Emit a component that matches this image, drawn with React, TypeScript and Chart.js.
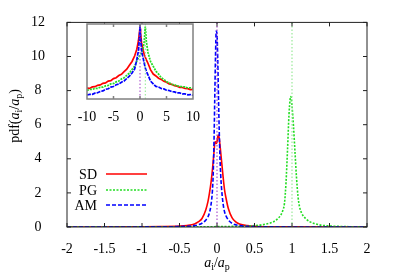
import React, { useEffect, useRef } from "react";
import { Chart, registerables } from "chart.js";

Chart.register(...registerables);

// ---------- main panel data ----------
const xTickValues = [-2, -1.5, -1, -0.5, 0, 0.5, 1, 1.5, 2];
const yTickValues = [0, 2, 4, 6, 8, 10, 12];
const seriesNames = ["SD", "PG", "AM"];

const sdX = [-2, -1.5, -1, -0.75, -0.5, -0.4, -0.3, -0.25, -0.2, -0.15, -0.12, -0.1, -0.08, -0.06, -0.04, -0.03, -0.02, -0.01, 0, 0.01, 0.02, 0.03, 0.04, 0.06, 0.08, 0.1, 0.12, 0.15, 0.2, 0.25, 0.3, 0.4, 0.5, 0.75, 1, 1.5, 2];
const sdY = [0.002, 0.004, 0.01, 0.02, 0.05, 0.09, 0.18, 0.3, 0.5, 1.0, 1.5, 2.0, 2.6, 3.4, 4.4, 4.9, 5.0, 4.9, 5.0, 5.3, 5.4, 5.2, 4.8, 3.9, 3.0, 2.2, 1.7, 1.1, 0.55, 0.3, 0.18, 0.08, 0.045, 0.015, 0.008, 0.003, 0.001];

const pgX = [-2, -1, -0.5, 0, 0.25, 0.5, 0.6, 0.7, 0.75, 0.8, 0.85, 0.88, 0.9, 0.92, 0.94, 0.96, 0.975, 0.985, 1.0, 1.02, 1.04, 1.06, 1.08, 1.1, 1.13, 1.18, 1.24, 1.3, 1.4, 1.5, 1.75, 2];
const pgY = [0.001, 0.002, 0.005, 0.02, 0.04, 0.08, 0.13, 0.22, 0.3, 0.45, 0.7, 1.0, 1.4, 2.6, 4.5, 6.6, 7.5, 7.65, 7.1, 5.9, 4.4, 2.9, 1.8, 1.2, 0.8, 0.5, 0.3, 0.2, 0.1, 0.06, 0.02, 0.01];

const amX = [-2, -1.5, -1, -0.75, -0.5, -0.4, -0.3, -0.25, -0.2, -0.15, -0.12, -0.1, -0.08, -0.06, -0.05, -0.04, -0.03, -0.02, -0.01, 0, 0.01, 0.02, 0.03, 0.04, 0.05, 0.06, 0.08, 0.1, 0.12, 0.15, 0.2, 0.25, 0.3, 0.4, 0.5, 0.75, 1, 1.5, 2];
const amY = [0.001, 0.002, 0.005, 0.01, 0.025, 0.04, 0.08, 0.13, 0.22, 0.4, 0.6, 0.85, 1.3, 2.2, 3.2, 5.0, 7.5, 10.0, 11.5, 11.3, 9.8, 7.6, 5.6, 4.0, 3.0, 2.3, 1.4, 0.9, 0.65, 0.42, 0.22, 0.13, 0.08, 0.04, 0.022, 0.008, 0.004, 0.002, 0.001];

// reference (mean) lines
const meanLineX = [0, 1];

// ---------- inset data (log y) ----------
const insetXTicks = [-10, -5, 0, 5, 10];
const insetX = [-10, -9.5, -9, -8.5, -8, -7.5, -7, -6.5, -6, -5.5, -5, -4.5, -4, -3.5, -3, -2.5, -2, -1.5, -1, -0.6, -0.3, -0.1, 0, 0.1, 0.3, 0.6, 0.8, 1, 1.2, 1.5, 2, 2.5, 3, 3.5, 4, 4.5, 5, 5.5, 6, 6.5, 7, 7.5, 8, 8.5, 9, 9.5, 10];
const insetSD = [7.8e-5, 7.2e-5, 9.5e-5, 1.0e-4, 1.28e-4, 1.38e-4, 1.85e-4, 2.0e-4, 2.8e-4, 3.1e-4, 4.5e-4, 5.3e-4, 7.9e-4, 1.0e-3, 1.65e-3, 2.6e-3, 5.4e-3, 0.011, 0.032, 0.11, 0.5, 2.5, 5.2, 2.2, 0.35, 0.089, 0.04, 0.024, 0.015, 7.9e-3, 2.3e-3, 1.05e-3, 7.4e-4, 4.8e-4, 3.9e-4, 2.7e-4, 2.3e-4, 1.7e-4, 1.55e-4, 1.2e-4, 1.1e-4, 8.9e-5, 8.6e-5, 7.1e-5, 6.9e-5, 5.8e-5, 5.9e-5];
const insetPG = [5.0e-5, 5.9e-5, 6.0e-5, 7.3e-5, 7.2e-5, 9.0e-5, 9.1e-5, 1.15e-4, 1.25e-4, 1.7e-4, 1.8e-4, 2.45e-4, 2.85e-4, 4.2e-4, 5.3e-4, 8.2e-4, 1.25e-3, 2.5e-3, 4.6e-3, 0.012, 0.022, 0.03, 0.035, 0.04, 0.055, 0.13, 0.45, 7.4, 0.45, 0.06, 0.0105, 4.5e-3, 1.8e-3, 1.05e-3, 5.3e-4, 3.9e-4, 2.5e-4, 2.1e-4, 1.5e-4, 1.42e-4, 1.1e-4, 1.12e-4, 9.5e-5, 9.5e-5, 7.9e-5, 8.1e-5, 7.1e-5];
const insetAM = [2.1e-5, 2.4e-5, 2.4e-5, 3.0e-5, 3.2e-5, 4.1e-5, 4.5e-5, 6.1e-5, 6.8e-5, 9.2e-5, 1.02e-4, 1.42e-4, 1.6e-4, 2.3e-4, 2.9e-4, 4.6e-4, 7.0e-4, 1.3e-3, 2.8e-3, 0.016, 0.08, 0.85, 11.3, 0.9, 0.08, 0.02, 7.9e-3, 3.2e-3, 1.8e-3, 8.9e-4, 2.8e-4, 1.7e-4, 1.05e-4, 9.3e-5, 7.1e-5, 6.6e-5, 5.2e-5, 4.9e-5, 3.9e-5, 3.8e-5, 3.1e-5, 3.1e-5, 2.6e-5, 2.6e-5, 2.2e-5, 2.3e-5, 2.0e-5];

// ---------- styling ----------
const FONT = "'Liberation Serif', 'Times New Roman', serif";
const RM = `14px ${FONT}`;
const IT = `italic 14px ${FONT}`;
const SUB = `10px ${FONT}`;
const COLORS = { SD: "#ff0000", PG: "#22dd22", AM: "#0000ff" };

type Part = { t: string; font: string; dy?: number };
const xTitleParts: Part[] = [
  { t: "a", font: IT }, { t: "i", font: SUB, dy: 3 }, { t: "/", font: RM },
  { t: "a", font: IT }, { t: "p", font: SUB, dy: 3 },
];
const yTitleParts: Part[] = [
  { t: "pdf(", font: RM }, { t: "a", font: IT }, { t: "i", font: SUB, dy: 3 }, { t: "/", font: RM },
  { t: "a", font: IT }, { t: "p", font: SUB, dy: 3 }, { t: ")", font: RM },
];

const pts = (xs: number[], ys: number[]) => xs.map((x, i) => ({ x, y: ys[i] }));

function drawRich(ctx: CanvasRenderingContext2D, parts: Part[], x: number, y: number) {
  let total = 0;
  for (const p of parts) { ctx.font = p.font; total += ctx.measureText(p.t).width; }
  let cx = x - total / 2;
  ctx.textAlign = "left";
  ctx.textBaseline = "alphabetic";
  for (const p of parts) {
    ctx.font = p.font;
    ctx.fillText(p.t, cx, y + (p.dy || 0));
    cx += ctx.measureText(p.t).width;
  }
}

function makeFrame(o: { color: string; width: number; xTicks: number[]; yTicks?: number[]; len: number; bg?: boolean }) {
  return {
    id: "frame",
    beforeDatasetsDraw(chart: any) {
      if (!o.bg) return;
      const { ctx, chartArea: a } = chart;
      ctx.save();
      ctx.fillStyle = "#fff";
      ctx.fillRect(a.left, a.top, a.right - a.left, a.bottom - a.top);
      ctx.restore();
    },
    afterDatasetsDraw(chart: any) {
      const { ctx, chartArea: a, scales } = chart;
      ctx.save();
      ctx.strokeStyle = o.color;
      ctx.lineWidth = o.width;
      ctx.setLineDash([]);
      ctx.beginPath();
      for (const v of o.xTicks) {
        const px = scales.x.getPixelForValue(v);
        ctx.moveTo(px, a.bottom); ctx.lineTo(px, a.bottom - o.len);
        ctx.moveTo(px, a.top); ctx.lineTo(px, a.top + o.len);
      }
      if (o.yTicks) {
        for (const v of o.yTicks) {
          const py = scales.y.getPixelForValue(v);
          ctx.moveTo(a.left, py); ctx.lineTo(a.left + o.len, py);
          ctx.moveTo(a.right, py); ctx.lineTo(a.right - o.len, py);
        }
      }
      ctx.stroke();
      ctx.strokeRect(a.left, a.top, a.right - a.left, a.bottom - a.top);
      ctx.restore();
    },
  };
}

const decorPlugin = {
  id: "decor",
  afterDraw(chart: any) {
    const ctx: CanvasRenderingContext2D = chart.ctx;
    ctx.save();
    ctx.fillStyle = "#000";
    // axis titles
    drawRich(ctx, xTitleParts, 217, 267);
    ctx.save();
    ctx.translate(19, 116);
    ctx.rotate(-Math.PI / 2);
    drawRich(ctx, yTitleParts, 0, 0);
    ctx.restore();
    // legend
    const rows = [174, 190, 205];
    seriesNames.forEach((name, i) => {
      const ds = chart.data.datasets[i];
      ctx.font = RM;
      ctx.textAlign = "right";
      ctx.textBaseline = "middle";
      ctx.fillStyle = "#000";
      ctx.fillText(name, 97, rows[i] + 1);
      ctx.strokeStyle = ds.borderColor;
      ctx.lineWidth = ds.borderWidth;
      ctx.setLineDash(ds.borderDash || []);
      ctx.beginPath();
      ctx.moveTo(106, rows[i]);
      ctx.lineTo(147, rows[i]);
      ctx.stroke();
    });
    ctx.restore();
  },
};

export default function App() {
  const mainRef = useRef<HTMLCanvasElement>(null);
  const insetRef = useRef<HTMLCanvasElement>(null);

  useEffect(() => {
    const tickFont = { family: FONT, size: 14 };
    const main = new Chart(mainRef.current!, {
      type: "line",
      data: {
        datasets: [
          { label: seriesNames[0], data: pts(sdX, sdY), borderColor: COLORS.SD, borderWidth: 1.6, order: 3, cubicInterpolationMode: "monotone" },
          { label: seriesNames[1], data: pts(pgX, pgY), borderColor: COLORS.PG, borderWidth: 1.6, borderDash: [2, 1.5], order: 2, cubicInterpolationMode: "monotone" },
          { label: seriesNames[2], data: pts(amX, amY), borderColor: COLORS.AM, borderWidth: 1.6, borderDash: [4, 2], order: 1, cubicInterpolationMode: "monotone" },
          { label: "meanA", data: [{ x: meanLineX[0], y: 0 }, { x: meanLineX[0], y: 12 }], borderColor: "#a040c8", borderWidth: 1.1, borderDash: [1.5, 2], order: 0 },
          { label: "meanB", data: [{ x: meanLineX[1], y: 0 }, { x: meanLineX[1], y: 12 }], borderColor: "#8fe88f", borderWidth: 1.1, borderDash: [1.5, 2], order: 0 },
        ] as any,
      },
      options: {
        responsive: false,
        animation: false,
        layout: { padding: { left: 0, top: 18, right: 28, bottom: 0 } },
        elements: { point: { radius: 0 }, line: { tension: 0 } },
        plugins: { legend: { display: false }, tooltip: { enabled: false } },
        scales: {
          x: {
            type: "linear", min: -2, max: 2,
            grid: { display: false }, border: { display: false },
            afterFit: (s: any) => { s.height = 49; },
            afterBuildTicks: (s: any) => { s.ticks = xTickValues.map((v) => ({ value: v })); },
            ticks: { padding: 6, color: "#000", font: tickFont, autoSkip: false, maxRotation: 0, callback: (v: any) => String(v) },
          },
          y: {
            type: "linear", min: 0, max: 12,
            grid: { display: false }, border: { display: false },
            afterFit: (s: any) => { s.width = 67; },
            afterBuildTicks: (s: any) => { s.ticks = yTickValues.map((v) => ({ value: v })); },
            ticks: { padding: 14, crossAlign: "center", color: "#000", font: tickFont, autoSkip: false, callback: (v: any) => String(v) },
          },
        },
      } as any,
      plugins: [makeFrame({ color: "#222", width: 1, xTicks: xTickValues, yTicks: yTickValues, len: 4 }), decorPlugin],
    });

    const inset = new Chart(insetRef.current!, {
      type: "line",
      data: {
        datasets: [
          { label: "SD", data: pts(insetX, insetSD), borderColor: COLORS.SD, borderWidth: 1.7, order: 3 },
          { label: "PG", data: pts(insetX, insetPG), borderColor: COLORS.PG, borderWidth: 1.7, borderDash: [2, 1], order: 2 },
          { label: "AM", data: pts(insetX, insetAM), borderColor: COLORS.AM, borderWidth: 1.7, borderDash: [4, 1], order: 1 },
          { label: "meanA", data: [{ x: meanLineX[0], y: 1e-5 }, { x: meanLineX[0], y: 12 }], borderColor: "#a040c8", borderWidth: 1, borderDash: [1.5, 2], order: 0 },
          { label: "meanB", data: [{ x: meanLineX[1], y: 1e-5 }, { x: meanLineX[1], y: 12 }], borderColor: "#8fe88f", borderWidth: 1, borderDash: [1.5, 2], order: 0 },
        ] as any,
      },
      options: {
        responsive: false,
        animation: false,
        layout: { padding: { left: 20, top: 4, right: 17, bottom: 0 } },
        elements: { point: { radius: 0 }, line: { tension: 0 } },
        plugins: { legend: { display: false }, tooltip: { enabled: false } },
        scales: {
          x: {
            type: "linear", min: -10, max: 10,
            grid: { display: false }, border: { display: false },
            afterFit: (s: any) => { s.height = 25; },
            afterBuildTicks: (s: any) => { s.ticks = insetXTicks.map((v) => ({ value: v })); },
            ticks: { padding: 2, color: "#000", font: tickFont, autoSkip: false, maxRotation: 0, callback: (v: any) => String(v) },
          },
          y: { type: "logarithmic", min: 1e-5, max: 12, display: false },
        },
      } as any,
      plugins: [makeFrame({ color: "#808080", width: 1.5, xTicks: [-5, 0, 5], len: 3, bg: true })],
    });

    return () => { main.destroy(); inset.destroy(); };
  }, []);

  return (
    <div style={{ position: "absolute", left: 0, top: 0, width: 395, height: 276, background: "#fff" }}>
      <canvas ref={mainRef} width={395} height={276} style={{ position: "absolute", left: 0, top: 0, width: 395, height: 276 }} />
      <canvas ref={insetRef} width={143} height={104} style={{ position: "absolute", left: 67, top: 20, width: 143, height: 104 }} />
    </div>
  );
}
